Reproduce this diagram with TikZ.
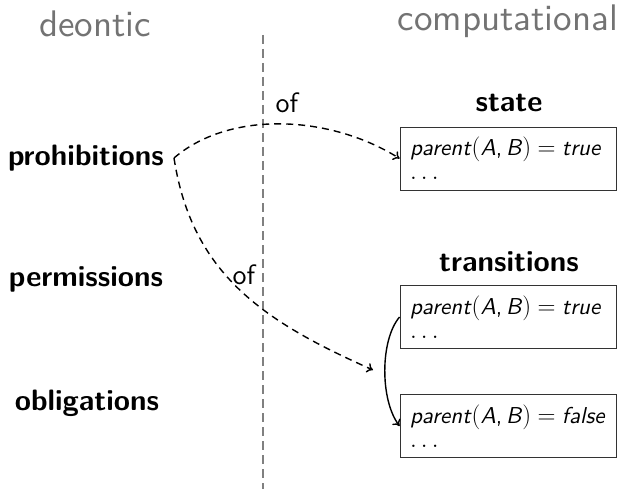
\documentclass[tikz,border=0pt]{standalone}
\usepackage{fontspec}
\setsansfont{lmsans10-regular.otf}[BoldFont=lmsans10-bold.otf, ItalicFont=lmsans10-oblique.otf, BoldItalicFont=lmsans10-boldoblique.otf]
\usetikzlibrary{arrows.meta}
\newcommand{\ptext}[1]{\textit{parent}$($\textit{A},\,\textit{B}$)$\;$=$\;\textit{#1}\\[-3pt]$\ldots$}
\begin{document}
\begin{tikzpicture}[x=1pt,y=-1pt,
  head/.style={font=\fontsize{37}{40}\selectfont\sffamily, text=black!55},
  cat/.style={font=\fontsize{29.5}{33}\selectfont\sffamily\bfseries, inner sep=0pt},
  state/.style={draw=black!80, line width=0.9pt, minimum width=216pt, minimum height=63pt, text width=196pt, align=left, inner sep=0pt, font=\fontsize{23}{27}\selectfont\sffamily},
  lbl/.style={font=\fontsize{28}{32}\selectfont\sffamily, inner sep=0pt},
  dasharrow/.style={dash pattern=on 7pt off 5pt, line width=1.4pt, -{To[length=6pt,width=10pt]}},
  solidarrow/.style={line width=1.4pt, -{To[length=6pt,width=10pt]}}]
\useasboundingbox (0,0) rectangle (620,489);
\node[head] (deon) at (95,24) {deontic};
\node[head] (comp) at (508,21) {computational};
\draw[black!50, line width=1.4pt, dash pattern=on 9pt off 5pt] (263,35) coordinate (vtop) -- (263,489) coordinate (vbot);
\node[cat, anchor=east] (proh) at (164,158) {prohibitions};
\node[cat] (perm) at (86,279) {permissions};
\node[cat] (obl) at (87,403) {obligations};
\node[cat] (st) at (509,103) {state};
\node[cat] (tr) at (509,262) {transitions};
\node[state] (b1) at (508,158.5) {\ptext{true}};
\node[state] (b2) at (508,317) {\ptext{true}};
\node[state] (b3) at (508,426) {\ptext{false}};
\coordinate (pstart) at (174,158);
\coordinate (tmid) at (373,370);
\draw[dasharrow] (pstart) .. controls (230,110) and (330,115) .. (b1.west);
\draw[dasharrow] (pstart) .. controls (192,275) and (265,322) .. (tmid);
\node[lbl] (of1) at (287,103) {of};
\node[lbl] (of2) at (244,275) {of};
\draw[solidarrow] (b2.west) .. controls (380,340) and (380,400) .. (b3.west);
\end{tikzpicture}
\end{document}
